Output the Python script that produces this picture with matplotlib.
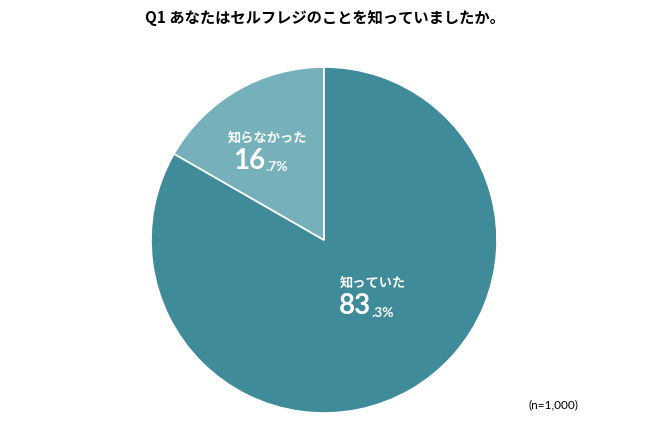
import numpy as np
import matplotlib.pyplot as plt

# データ
title = "Q1 あなたはセルフレジのことを知っていましたか。"
labels = ["知っていた", "知らなかった"]
values = [83.3, 16.7]
colors = ["#3f8b9a", "#76b1bb"]
note = "(n=1,000)"

plt.rcParams['font.family'] = ['Noto Sans CJK JP', 'DejaVu Sans']

fig = plt.figure(figsize=(6.5, 4.25), dpi=100)
fig.patch.set_facecolor("white")

# 円グラフの位置（中心 324,240 / 半径 173px）
cx, cy, r = 324, 240, 173
ax = fig.add_axes([(cx - r) / 650, (425 - cy - r) / 425, 2 * r / 650, 2 * r / 425])
wedges, _ = ax.pie(values, colors=colors, startangle=90, counterclock=False,
                   wedgeprops=dict(edgecolor="white", linewidth=1.2))
ax.set_xlim(-1, 1)
ax.set_ylim(-1, 1)
ax.set_aspect("equal")
ax.axis("off")

# ラベル（扇形の中央角から位置を決める）
label_r = [0.44, 0.60]
label_shift = [6.5, 5.5]  # 度
for w, lab, val, lr, sh in zip(wedges, labels, values, label_r, label_shift):
    ang = np.deg2rad((w.theta1 + w.theta2) / 2 + sh)
    x, y = lr * np.cos(ang), lr * np.sin(ang)
    ax.text(x + 0.02, y + 0.065, lab, ha="center", va="bottom", color="white",
            fontsize=9.5, fontweight="bold")
    whole, dec = f"{val:.1f}".split(".")
    t = ax.text(x + 0.01, y + 0.045, whole, ha="right", va="top", color="white",
                fontsize=20, fontweight="bold", family="Lato")
    ax.annotate("." + dec + "%", xy=(1, 0.03), xycoords=t, va="bottom", ha="left",
                color="white", fontsize=10, fontweight="bold", family="Lato")

fig.text(0.5, 1 - 18 / 425, title, ha="center", va="center",
         fontsize=11, fontweight="bold")
fig.text(553 / 650, 1 - 405 / 425, note, ha="center", va="center",
         fontsize=8.5, family="Lato")

fig.savefig("out.png", dpi=100)
